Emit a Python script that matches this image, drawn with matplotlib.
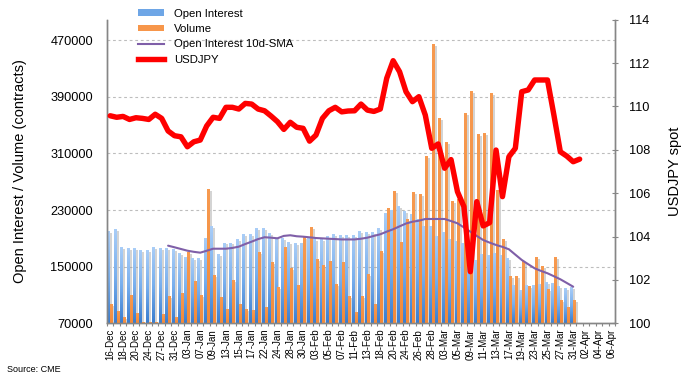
import numpy as np
import matplotlib
matplotlib.use("Agg")
import matplotlib.pyplot as plt
import matplotlib.patheffects as pe
from matplotlib.colors import LinearSegmentedColormap
from matplotlib.lines import Line2D
from matplotlib.patches import Patch

plt.rcParams['font.family'] = ['Liberation Sans', 'DejaVu Sans']

# ---------------- data ----------------
dates = ["16-Dec", "17-Dec", "18-Dec", "19-Dec", "20-Dec", "23-Dec", "24-Dec", "26-Dec", "27-Dec", "30-Dec",
         "31-Dec", "02-Jan", "03-Jan", "06-Jan", "07-Jan", "08-Jan", "09-Jan", "10-Jan", "13-Jan", "14-Jan",
         "15-Jan", "16-Jan", "17-Jan", "21-Jan", "22-Jan", "23-Jan", "24-Jan", "27-Jan", "28-Jan", "29-Jan",
         "30-Jan", "31-Jan", "03-Feb", "04-Feb", "05-Feb", "06-Feb", "07-Feb", "10-Feb", "11-Feb", "12-Feb",
         "13-Feb", "14-Feb", "18-Feb", "19-Feb", "20-Feb", "21-Feb", "24-Feb", "25-Feb", "26-Feb", "27-Feb",
         "28-Feb", "02-Mar", "03-Mar", "04-Mar", "05-Mar", "06-Mar", "09-Mar", "10-Mar", "11-Mar", "12-Mar",
         "13-Mar", "16-Mar", "17-Mar", "18-Mar", "19-Mar", "20-Mar", "23-Mar", "24-Mar", "25-Mar", "26-Mar",
         "27-Mar", "30-Mar", "31-Mar", "01-Apr", "02-Apr", "03-Apr", "04-Apr", "05-Apr", "06-Apr"]

open_interest = [199000, 202000, 176400, 175000, 175000, 172000, 172000, 176400, 175000, 175000,
                 173600, 168400, 162300, 160900, 160900, 188700, 206000, 166500, 183000, 183000,
                 187700, 194400, 194400, 203300, 203300, 195800, 190000, 189100, 183500, 182000,
                 182000, 190000, 187700, 187700, 192000, 194800, 193400, 193400, 193400, 199000,
                 197600, 197600, 203300, 224500, 228700, 234400, 227300, 223100, 216000, 207000,
                 206100, 192000, 197600, 187700, 185500, 182000, 176000, 158300, 166500, 166000,
                 167900, 165100, 160900, 122700, 115600, 122700, 123000, 124100, 127000, 125500,
                 122000, 118500, 120500]

volume = [96000, 86400, 77500, 108600, 83000, 70800, 70500, 71000, 81700, 107000,
          77500, 111500, 169500, 128600, 108600, 258400, 136900, 105800, 88800, 129800,
          95900, 88800, 87400, 169000, 91600, 155200, 119900, 176400, 146800, 122700,
          190600, 204700, 159500, 151000, 156700, 124100, 155200, 107200, 84500, 107400,
          138300, 95900, 170800, 231300, 255600, 183500, 216000, 254200, 251400, 305000,
          463400, 358800, 324900, 241700, 245000, 366000, 396800, 336000, 337400, 394100,
          257000, 187700, 135500, 135500, 157300, 121300, 162300, 149600, 117100, 162300,
          101500, 91600, 101500]

oi_sma_start = 9
oi_sma = [179700, 177400, 175000, 172600, 171000, 169800, 172500, 175400, 175400, 175400,
          176500, 178300, 182000, 185400, 189000, 191600, 191000, 190100, 193500, 194400,
          193000, 192400, 191500, 190500, 190000, 189500, 189000, 188500, 188500, 188500,
          189500, 191000, 193500, 195800, 199500, 202900, 207000, 211000, 213500, 215000,
          217400, 217400, 217400, 217400, 214500, 211300, 205500, 199500, 193500, 187700,
          184000, 180700, 178000, 174600, 167000, 159500, 153500, 147700, 144000, 140700,
          136500, 132200, 127000, 121700]

usdjpy = [109.57, 109.50, 109.54, 109.40, 109.48, 109.45, 109.40, 109.64, 109.45, 108.87,
          108.65, 108.60, 108.14, 108.37, 108.45, 109.10, 109.50, 109.45, 109.96, 109.96,
          109.88, 110.14, 110.11, 109.88, 109.80, 109.56, 109.30, 108.94, 109.27, 109.04,
          108.99, 108.40, 108.68, 109.45, 109.80, 109.96, 109.75, 109.79, 109.80, 110.11,
          109.83, 109.77, 109.88, 111.30, 112.11, 111.60, 110.68, 110.22, 110.45, 109.60,
          108.07, 108.27, 107.15, 107.55, 106.07, 105.38, 102.38, 105.61, 104.49, 104.64,
          107.99, 105.84, 107.68, 108.07, 110.68, 110.76, 111.22, 111.22, 111.22, 109.60,
          107.91, 107.71, 107.45, 107.57]

# ---------------- figure ----------------
W, H = 691, 382
fig = plt.figure(figsize=(W / 100, H / 100), dpi=100)
ax = fig.add_axes([107 / W, 1 - 323.3 / H, (615 - 107) / W, (323.3 - 19.7) / H])
ax2 = ax.twinx()

n = len(dates)
x = np.arange(n)
xo = np.arange(len(open_interest))
xv = np.arange(len(volume))

ymin, ymax = 70000, 499000
bw = 0.45
shadow_only = [pe.SimplePatchShadow(offset=(1.5, -0.8), shadow_rgbFace='#a0a0a0', alpha=0.45)]

# soft shadows behind all bars
ax.bar(xo - bw / 2, np.array(open_interest) - ymin, bw, bottom=ymin, color='none',
       zorder=1.5, path_effects=shadow_only)
ax.bar(xv + bw / 2, np.array(volume) - ymin, bw, bottom=ymin, color='none',
       zorder=1.5, path_effects=shadow_only)

blue_bars = ax.bar(xo - bw / 2, np.array(open_interest) - ymin, bw, bottom=ymin,
                   color='#6ea6e6', zorder=2)
orange_bars = ax.bar(xv + bw / 2, np.array(volume) - ymin, bw, bottom=ymin,
                     color='#f7964a', zorder=3)

cmap_blue = LinearSegmentedColormap.from_list('bl', ['#3a7dcf', '#78afee', '#a9cdf7'])
grad = np.linspace(0, 1, 64).reshape(-1, 1)
for b in blue_bars:
    x0, y0 = b.get_x(), b.get_y()
    ax.imshow(grad, extent=[x0, x0 + b.get_width(), y0, y0 + b.get_height()], origin='lower',
              cmap=cmap_blue, aspect='auto', interpolation='bilinear', zorder=2.5)
cmap_or = LinearSegmentedColormap.from_list('or', ['#f28a3a', '#f79a50'])
for b in orange_bars:
    x0, y0 = b.get_x(), b.get_y()
    ax.imshow(grad, extent=[x0, x0 + b.get_width(), y0, y0 + b.get_height()], origin='lower',
              cmap=cmap_or, aspect='auto', interpolation='bilinear', zorder=3.5)

xs = np.arange(oi_sma_start, oi_sma_start + len(oi_sma))
ax.plot(xs, oi_sma, color='#7f5fa8', lw=1.5, zorder=5, solid_capstyle='round')

ax2.plot(np.arange(len(usdjpy)), usdjpy, color='#ff0000', lw=3.9, zorder=6,
         solid_joinstyle='round', solid_capstyle='round')

# ---------------- axes styling ----------------
ax.set_xlim(-0.5, n - 0.5)
ax.set_ylim(ymin, ymax)
ax2.set_ylim(100, 114)

lt = [70000, 150000, 230000, 310000, 390000, 470000]
ax.set_yticks(lt)
ax.set_yticklabels([str(v) for v in lt], fontsize=9.2)
ax.tick_params(axis='y', length=0, pad=10)
for v in lt[1:]:
    ax.axhline(v, color='#bdbdbd', lw=0.8, ls=(0, (2.5, 2.5)), zorder=1)

rt = [100, 102, 104, 106, 108, 110, 112, 114]
ax2.set_yticks(rt)
ax2.set_yticklabels([str(v) for v in rt], fontsize=9.2)
ax2.tick_params(axis='y', length=4, direction='inout', color='#868686', pad=8)

ax.set_xticks(x[::2])
ax.set_xticklabels(dates[::2], rotation=90, fontsize=7.0)
ax.tick_params(axis='x', length=0, pad=4)
ax.set_xticks(np.arange(-0.5, n, 1.0), minor=True)
ax.tick_params(axis='x', which='minor', length=2.5, color='#868686', width=0.8)

for a in (ax, ax2):
    a.spines['top'].set_visible(False)
    for s in ('left', 'right', 'bottom'):
        a.spines[s].set_color('#868686')
        a.spines[s].set_linewidth(1.0)

ax.set_ylabel('Open Interest / Volume (contracts)', fontsize=10.5, labelpad=17)
ax2.set_ylabel('USDJPY spot', fontsize=10.5, labelpad=13)

handles = [Patch(facecolor='#6ea6e6', edgecolor='none'),
           Patch(facecolor='#f7964a', edgecolor='none'),
           Line2D([0], [0], color='#7f5fa8', lw=1.5),
           Line2D([0], [0], color='#ff0000', lw=3.9)]
labels = ['Open Interest', 'Volume', 'Open Interest 10d-SMA', 'USDJPY']
leg = ax2.legend(handles, labels, loc='upper left', bbox_to_anchor=(129 / W, 1.0),
                 bbox_transform=fig.transFigure, frameon=False, fontsize=8.2,
                 handlelength=2.3, handleheight=0.55, handletextpad=0.9, labelspacing=0.48,
                 borderpad=0.25)

fig.text(7 / W, 1 - 369 / H, 'Source: CME', fontsize=6.5, va='center', ha='left')

fig.savefig('out.png', dpi=100)
